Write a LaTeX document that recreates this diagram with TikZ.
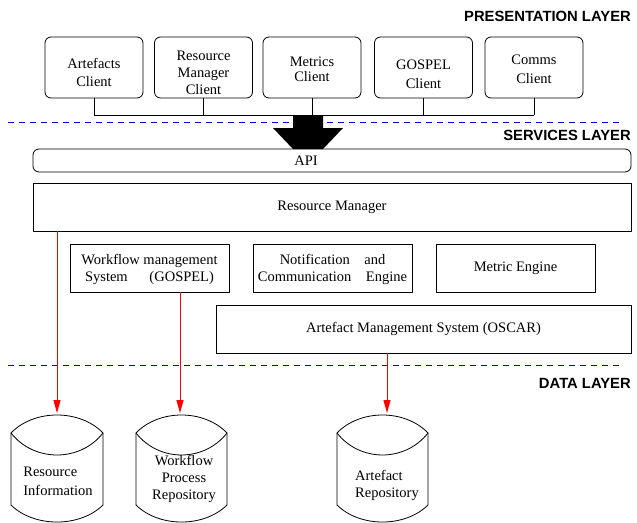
\documentclass[tikz,border=0pt]{standalone}
\usepackage{fontspec}
\setmainfont{Liberation Serif}
\newfontfamily\layerfont{Liberation Sans}
\usetikzlibrary{arrows.meta}
\begin{document}
\begin{tikzpicture}[x=1pt,y=-1pt,line join=round,>={Triangle[length=13pt,width=7pt]}]
                \tikzset{boxtext/.style={font=\fontsize{14.5}{17}\selectfont,align=center,inner sep=0pt},
                    clientbox/.style={draw,line width=0.8pt,rounded corners=6pt,minimum width=98pt,minimum height=61pt,inner sep=0pt},
                    svcbox/.style={boxtext,draw,line width=0.8pt,minimum height=48pt},
                    layerlbl/.style={font=\layerfont\bfseries\fontsize{14.8}{16}\selectfont,anchor=east,inner sep=0pt},
                    layerline/.style={blue!85!black,line width=1pt,dash pattern=on 6pt off 5pt},
                    redline/.style={red,line width=1pt,->}}
                \useasboundingbox (0,0) rectangle (637,522);
                % presentation layer
                \node[layerlbl] (preslbl) at (631,16) {PRESENTATION LAYER};
                \node[clientbox] (artclient) at (94,67.5) {};
                \node[clientbox] (rmclient) at (203.5,67.5) {};
                \node[clientbox] (metclient) at (312,67.5) {};
                \node[clientbox] (gosclient) at (423.5,67.5) {};
                \node[clientbox] (comclient) at (534,67.5) {};
                \node[boxtext] (arttext) at (94,72) {Artefacts\\[1pt]Client};
                \node[boxtext] (rmtext) at (203.5,72.5) {Resource\\Manager\\Client};
                \node[boxtext] (mettext) at (312,69.5) {Metrics\\[-2pt]Client};
                \node[boxtext] (gostext) at (423.5,74.5) {GOSPEL\\[2pt]Client};
                \node[boxtext] (comtext) at (534,69.5) {Comms\\[2pt]Client};
                \coordinate (bus) at (94,115);
                \foreach \c in {artclient,rmclient,metclient,gosclient,comclient}
                \draw[line width=0.8pt] (\c.south)--(\c.south |- bus);
                \draw[line width=0.8pt] (artclient.south |- bus)--(comclient.south |- bus);
                \draw[layerline] (8,122)--(621,122);
                % services layer
                \node[layerlbl] (svclbl) at (631,135) {SERVICES LAYER};
                \fill (293,115)--(323,115)--(323,128)--(343,128)--(323,149)--(293,149)--(273,128)--(293,128)--cycle;
                \node[draw,line width=0.8pt,rounded corners=6pt,minimum width=598pt,minimum height=23pt,inner sep=0pt] (api) at (332,160.5) {};
                \node[boxtext] (apilbl) at (306,161) {API};
                \node[svcbox,minimum width=598pt] (rm) at (332,207) {Resource Manager};
                \node[svcbox,minimum width=159pt,text depth=0pt] (wfms) at (149.5,268) {Workflow management\\System\hspace{1.5em}(GOSPEL)};
                \node[svcbox,minimum width=159pt,text depth=0pt] (notif) at (332.5,268) {Notification\hspace{1em}and\\Communication\hspace{1em}Engine};
                \node[svcbox,minimum width=159pt] (metric) at (515.5,268) {Metric Engine};
                \node[svcbox,minimum width=415pt] (oscar) at (423.5,329) {Artefact Management System (OSCAR)};
                \draw[layerline] (8,365)--(621,365);
                % data layer
                \node[layerlbl] (datalbl) at (631,383) {DATA LAYER};
                \begin{scope}
                    \clip (0,0) rectangle (637,522);
                    \foreach \xl/\xr in {11/103,136/227,337/428}{
                    \draw[line width=0.8pt] (\xl,505)--(\xl,433) .. controls (\xl+23,409) and (\xr-23,409) .. (\xr,433)--(\xr,505)
                    .. controls (\xr-23,527.7) and (\xl+23,527.7) .. cycle;
                    \draw[line width=0.8pt] (\xl,433) .. controls (\xl+23,462.3) and (\xr-23,462.3) .. (\xr,433);
                    }
                \end{scope}
                \coordinate (resinfotop) at (57,413);
                \coordinate (wfrepotop) at (180,413);
                \coordinate (artrepotop) at (387,413);
                \node[boxtext,align=left] (resinfo) at (58,481) {Resource\\[2pt]Information};
                \node[boxtext] (wfrepo) at (184,479) {Workflow\\Process\\Repository};
                \node[boxtext,align=left] (artrepo) at (387,485) {Artefact\\Repository};
                \draw[redline] (rm.south -| resinfotop)--(resinfotop);
                \draw[redline] (wfms.south -| wfrepotop)--(wfrepotop);
                \draw[redline] (oscar.south -| artrepotop)--(artrepotop);
            \end{tikzpicture}
\end{document}
